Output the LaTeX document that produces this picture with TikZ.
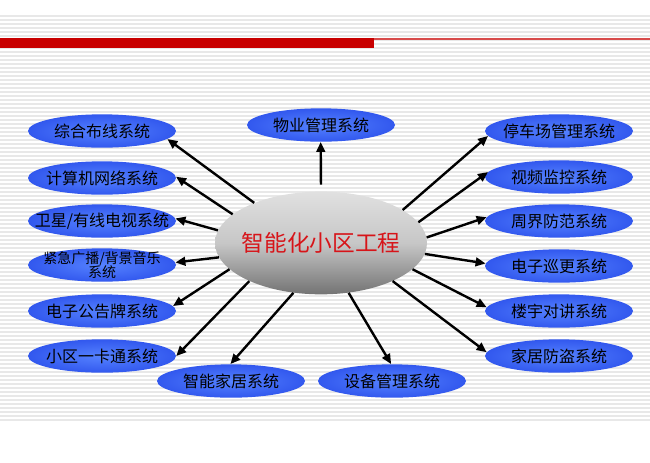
\documentclass[tikz,border=0pt]{standalone}
\usepackage{fontspec}
\newfontfamily\cjk{Noto Sans CJK SC}
\definecolor{barred}{RGB}{200, 0, 0}
\definecolor{sysblue}{RGB}{50, 88, 238}
\definecolor{syslight}{RGB}{85, 130, 255}
\definecolor{hubred}{RGB}{215, 20, 25}
\usetikzlibrary{shapes.geometric, arrows.meta}

\begin{document}
\begin{tikzpicture}[
  x=0.75pt, y=-0.75pt,
  stripe/.style={draw=black!9, line width=1pt},
  sysbox/.style={ellipse, inner color=syslight, outer color=sysblue, minimum width=111pt, minimum height=25pt, inner xsep=-14pt, inner ysep=-3pt, align=center, font=\cjk\fontsize{12}{13}\selectfont},
  hub/.style={ellipse, top color=black!12, bottom color=black!55, middle color=black!22, minimum width=159pt, minimum height=77pt, inner xsep=-10pt, inner ysep=0pt, text=hubred, font=\cjk\fontsize{17}{20}\selectfont},
  link/.style={line width=1.8pt, -{Triangle[length=7.5pt, width=6.5pt]}}
]
  \useasboundingbox (0,0) rectangle (650,462);
  \fill[white] (0,0) rectangle (650,462);
  % striped background and title bar
  \foreach \y in {16,20,...,420}
    \draw[stripe] (0,\y) -- (650,\y);
  \fill[barred] (0,38) rectangle (374,48);
  \draw[barred!70, line width=0.9pt] (374,39) -- (650,39);

  \node[hub] (hub) at (321,243) {智能化小区工程};

  \node[sysbox] (wuye) at (321,125) {物业管理系统};
  \node[sysbox] (zonghe) at (102,131) {综合布线系统};
  \node[sysbox] (jisuanji) at (102,178) {计算机网络系统};
  \node[sysbox] (weixing) at (102,221) {卫星/有线电视系统};
  \node[sysbox, font=\cjk\fontsize{10.5}{11}\selectfont, inner ysep=-5pt] (guangbo) at (102,265) {紧急广播/背景音乐\\系统};
  \node[sysbox] (gonggao) at (102,311) {电子公告牌系统};
  \node[sysbox] (yikatong) at (102,356) {小区一卡通系统};
  \node[sysbox] (jiaju) at (231,381) {智能家居系统};
  \node[sysbox] (shebei) at (392,381) {设备管理系统};
  \node[sysbox] (tingche) at (559,131) {停车场管理系统};
  \node[sysbox] (shipin) at (559,177) {视频监控系统};
  \node[sysbox] (zhoujie) at (559,221) {周界防范系统};
  \node[sysbox] (xungeng) at (559,266) {电子巡更系统};
  \node[sysbox] (louyu) at (559,311) {楼宇对讲系统};
  \node[sysbox] (fangdao) at (559,356) {家居防盗系统};

  \draw[link, shorten <=5pt] (hub.90) -- (wuye.-91);
  \draw[link] (hub.149) -- (zonghe.-7);
  \draw[link] (hub.162) -- (jisuanji.1);
  \draw[link] (hub.173) -- (weixing.2);
  \draw[link] (hub.188) -- (guangbo.2);
  \draw[link] (hub.196) -- (gonggao.4);
  \draw[link] (hub.208) -- (yikatong.0);
  \draw[link] (hub.241) -- (jiaju.92);
  \draw[link] (hub.299) -- (shebei.93);
  \draw[link] (hub.22) -- (tingche.184);
  \draw[link] (hub.12) -- (shipin.176);
  \draw[link] (hub.3) -- (zhoujie.177);
  \draw[link] (hub.-6) -- (xungeng.178);
  \draw[link] (hub.-16) -- (louyu.177);
  \draw[link] (hub.-28) -- (fangdao.177);
\end{tikzpicture}
\end{document}
